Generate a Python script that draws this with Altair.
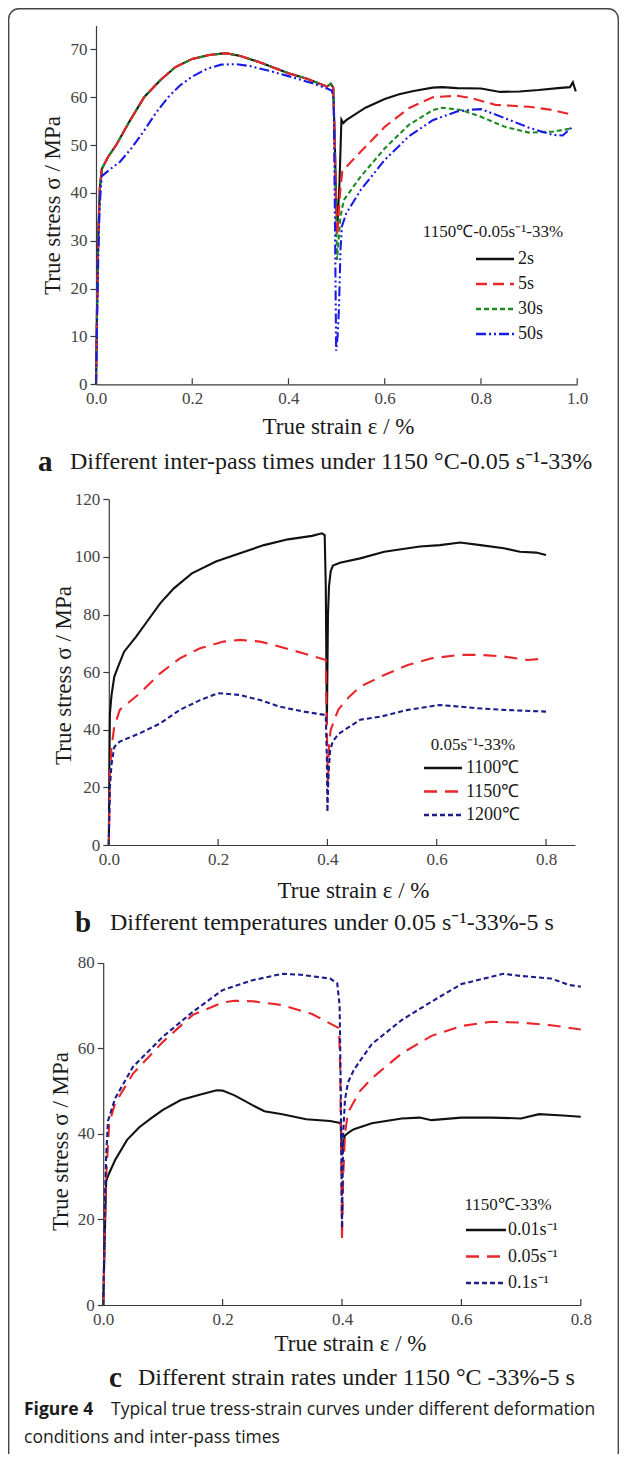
import altair as alt
import pandas as pd

# ---------------- data ----------------
# Panel a: 1150 °C - 0.05 s^-1 - 33 %, inter-pass times 2 s / 5 s / 30 s / 50 s
a_pass1_strain = [0, 0.002, 0.005, 0.008, 0.012, 0.025, 0.042, 0.07, 0.1, 0.133,
                  0.165, 0.2, 0.235, 0.27, 0.3, 0.34, 0.4, 0.44, 0.48, 0.488, 0.493]
a_pass1_stress = [0, 15, 32, 41, 45, 47.5, 50, 55, 60, 63.5,
                  66.3, 68, 68.8, 69.2, 68.6, 67.3, 65, 63.8, 62.2, 62.8, 62]

a_2s_strain2 = [0.496, 0.499, 0.502, 0.506, 0.51, 0.514, 0.52, 0.54, 0.56, 0.6,
                0.63, 0.66, 0.7, 0.72, 0.75, 0.8, 0.84, 0.88, 0.92, 0.96,
                0.985, 0.991, 0.997]
a_2s_stress2 = [52, 38, 34, 42, 55.3, 54.6, 55.2, 56.5, 57.8, 59.6,
                60.6, 61.3, 62, 62.1, 61.9, 61.8, 61.1, 61.2, 61.5, 61.9,
                62.1, 63.1, 61.2]

a_5s_strain2 = [0.496, 0.499, 0.501, 0.504, 0.508, 0.512, 0.53, 0.55, 0.6, 0.65,
                0.7, 0.75, 0.78, 0.83, 0.9, 0.95, 0.99]
a_5s_stress2 = [52, 38, 31, 35, 41, 44.5, 46.5, 48.6, 53.8, 57.7,
                60, 60.3, 59.8, 58.4, 58, 57.3, 56.3]

a_30s_strain2 = [0.496, 0.499, 0.501, 0.504, 0.508, 0.515, 0.55, 0.6, 0.65, 0.7,
                 0.72, 0.76, 0.8, 0.85, 0.9, 0.95, 0.99]
a_30s_stress2 = [50, 35, 26, 30, 35, 38.5, 43.4, 49.3, 54.2, 57.3,
                 57.8, 57.3, 55.9, 53.8, 52.6, 52.8, 53.5]

a_50s_strain = [0, 0.002, 0.005, 0.008, 0.012, 0.03, 0.05, 0.075, 0.1, 0.125,
                0.15, 0.175, 0.2, 0.23, 0.26, 0.29, 0.32, 0.36, 0.4, 0.45,
                0.48, 0.49, 0.494, 0.497, 0.499, 0.502, 0.505, 0.508, 0.511, 0.52,
                0.55, 0.6, 0.65, 0.7, 0.75, 0.78, 0.8, 0.85, 0.9, 0.95,
                0.97, 0.99]
a_50s_stress = [0, 12, 28, 38, 43.5, 45, 46.5, 49.5, 53, 56.8,
                60, 62.5, 64.3, 65.9, 66.8, 66.9, 66.5, 65.5, 64.4, 62.9,
                61.8, 61.4, 59.4, 30, 7, 10, 16, 28, 33, 35.7,
                40.6, 46.9, 51.8, 55.2, 57, 57.4, 57.5, 55.6, 53.6, 52.1,
                52, 53.8]

# Panel b: 0.05 s^-1 - 33 % - 5 s, temperatures
b_1100_strain = [0, 0.001, 0.002, 0.005, 0.01, 0.017, 0.028, 0.05, 0.072, 0.094,
                 0.119, 0.152, 0.196, 0.24, 0.284, 0.328, 0.372, 0.39, 0.395, 0.397,
                 0.399, 0.401, 0.403, 0.406, 0.41, 0.423, 0.46, 0.504, 0.569, 0.606,
                 0.643, 0.68, 0.723, 0.752, 0.782, 0.8]
b_1100_stress = [0, 25, 45.7, 52, 58.4, 61.9, 67.1, 72.3, 78.1, 83.9,
                 89.1, 94.3, 98.4, 101.3, 104.1, 106.1, 107.3, 108.2, 107.6, 90,
                 42, 80, 90, 95, 97, 98, 99.5, 101.8, 103.6, 104.1,
                 105, 104.1, 103, 101.8, 101.5, 100.7]

b_1150_strain = [0, 0.002, 0.005, 0.01, 0.02, 0.057, 0.094, 0.13, 0.167, 0.21,
                 0.24, 0.277, 0.313, 0.357, 0.397, 0.399, 0.401, 0.403, 0.406, 0.41,
                 0.42, 0.44, 0.46, 0.504, 0.547, 0.591, 0.643, 0.68, 0.723, 0.767,
                 0.8]
b_1150_stress = [0, 25, 34, 41, 46.9, 52.7, 59.6, 64.8, 68.3, 70.6,
                 71.2, 70.6, 68.8, 66.5, 64.2, 40, 20, 35, 40, 42,
                 47, 51.5, 55, 59, 62.5, 64.8, 66, 66, 65.4, 64.2,
                 64.8]

b_1200_strain = [0, 0.002, 0.005, 0.01, 0.02, 0.057, 0.094, 0.13, 0.167, 0.2,
                 0.24, 0.277, 0.313, 0.357, 0.397, 0.399, 0.4, 0.402, 0.405, 0.41,
                 0.42, 0.46, 0.496, 0.547, 0.606, 0.643, 0.68, 0.723, 0.8]
b_1200_stress = [0, 20, 28, 34, 35.9, 38.8, 42.2, 46.9, 50.3, 52.7,
                 52.1, 50.3, 48, 46.3, 45.1, 30, 11.5, 25, 33, 36,
                 38.5, 43.5, 44.5, 46.9, 48.6, 48, 47.4, 46.9, 46.3]

# Panel c: 1150 °C - 33 % - 5 s, strain rates
c_001_strain = [0, 0.001, 0.003, 0.005, 0.01, 0.02, 0.04, 0.06, 0.08, 0.1,
                0.13, 0.16, 0.19, 0.2, 0.22, 0.25, 0.27, 0.3, 0.34, 0.38,
                0.395, 0.398, 0.4, 0.402, 0.405, 0.412, 0.42, 0.45, 0.5, 0.53,
                0.55, 0.6, 0.65, 0.7, 0.73, 0.77, 0.8]
c_001_stress = [0, 6, 18, 29, 30.8, 33.9, 38.6, 41.5, 43.6, 45.6,
                47.9, 49.1, 50.2, 50.1, 49, 46.7, 45.3, 44.6, 43.4, 43,
                42.6, 42.3, 35, 38, 39.6, 40.4, 41.1, 42.5, 43.6, 43.8,
                43.2, 43.8, 43.8, 43.6, 44.6, 44.3, 44]

c_005_strain = [0, 0.001, 0.003, 0.005, 0.01, 0.02, 0.05, 0.1, 0.15, 0.2,
                0.22, 0.25, 0.3, 0.35, 0.395, 0.397, 0.399, 0.4, 0.402, 0.405,
                0.41, 0.43, 0.45, 0.5, 0.55, 0.6, 0.65, 0.7, 0.75, 0.8]
c_005_stress = [0, 5, 20, 30, 42.5, 47.1, 54.1, 61.5, 67.8, 70.7,
                71.1, 71, 70.1, 68, 64.7, 55, 30, 15, 30, 40,
                45, 50, 53, 58.8, 62.9, 65.2, 66.2, 66, 65.4, 64.4]

c_01_strain = [0, 0.001, 0.003, 0.005, 0.008, 0.02, 0.05, 0.1, 0.15, 0.2,
               0.25, 0.3, 0.33, 0.38, 0.392, 0.396, 0.398, 0.4, 0.402, 0.405,
               0.41, 0.42, 0.45, 0.5, 0.55, 0.6, 0.65, 0.67, 0.7, 0.75,
               0.78, 0.8]
c_01_stress = [0, 8, 25, 35, 43, 48.3, 55.7, 62.7, 68.5, 73.6,
               75.9, 77.4, 77.2, 76.3, 75.2, 70, 50, 18, 40, 48,
               52, 55, 61, 66.6, 70.9, 75, 76.7, 77.4, 76.9, 76.3,
               74.8, 74.4]

# axis ticks / labels
a_xticks = [0, 0.2, 0.4, 0.6, 0.8, 1.0]
a_yticks = [0, 10, 20, 30, 40, 50, 60, 70]
b_xticks = [0, 0.2, 0.4, 0.6, 0.8]
b_yticks = [0, 20, 40, 60, 80, 100, 120]
c_xticks = [0, 0.2, 0.4, 0.6, 0.8]
c_yticks = [0, 20, 40, 60, 80]

a_names = ["2s", "5s", "30s", "50s"]
b_names = ["1100℃", "1150℃", "1200℃"]
c_names = ["0.01s⁻¹", "0.05s⁻¹", "0.1s⁻¹"]

# ---------------- style ----------------
SERIF = "Liberation Serif"
SANS = "Open Sans"
W, H = 611, 1446
AXIS_C = "#3a3a3a"
LABEL_C = "#444444"
TXT_C = "#1a1a1a"

BLACK, RED, GREEN, BLUE, NAVY = "#111111", "#e8262b", "#1f8a24", "#1a1ae6", "#1c1c8a"
a_colors = [BLACK, RED, GREEN, BLUE]
a_dashes = [None, [11, 6], [5, 3], [10, 3, 2, 3, 2, 3]]
b_colors = [BLACK, RED, NAVY]
b_dashes = [None, [13, 8], [5, 3]]
c_colors = [BLACK, RED, NAVY]
c_dashes = [None, [13, 8], [5, 3]]


def x_axis(y_px, values, title_x, title_dy):
    return alt.Axis(orient="bottom", offset=y_px - H, values=values, format=".1f",
                    ticks=False, tickSize=0, labelPadding=6, labelFont=SERIF,
                    labelFontSize=17, labelColor=LABEL_C, labelFlush=False,
                    labelOverlap=False, domainColor=AXIS_C, domainWidth=1.2,
                    grid=False, title="True strain ε / %", titleFont=SERIF,
                    titleFontSize=23, titleFontWeight="normal", titleColor=TXT_C,
                    titleX=title_x, titleY=title_dy, titleBaseline="middle")


def y_axis(x_px, values, title_dx, title_y):
    return alt.Axis(orient="left", offset=-x_px, values=values, format="d",
                    tickSize=6, tickColor=AXIS_C, tickWidth=1.2, labelPadding=3,
                    labelFont=SERIF, labelFontSize=17, labelColor=LABEL_C,
                    labelFlush=False, labelOverlap=False, domainColor=AXIS_C,
                    domainWidth=1.2, grid=False, title="True stress σ / MPa",
                    titleFont=SERIF, titleFontSize=23, titleFontWeight="normal",
                    titleColor=TXT_C, titleX=title_dx, titleY=title_y,
                    titleAngle=270, titleBaseline="middle")


def line(strain, stress, color, dash, xs, ys, xax, yax, width=2.1):
    df = pd.DataFrame({"strain": strain, "stress": stress,
                       "i": list(range(len(strain)))})
    kw = dict(color=color, strokeWidth=width)
    if dash:
        kw["strokeDash"] = dash
    return alt.Chart(df).mark_line(**kw).encode(
        x=alt.X("strain:Q", scale=xs, axis=xax),
        y=alt.Y("stress:Q", scale=ys, axis=yax),
        order=alt.Order("i:Q"))


def inward_ticks(values, xs, xax, y_px):
    df = pd.DataFrame({"t": values})
    return alt.Chart(df).mark_rule(color=AXIS_C, strokeWidth=1.2).encode(
        x=alt.X("t:Q", scale=xs, axis=xax),
        y=alt.value(y_px - 6), y2=alt.value(y_px))


def text(s, x, y, size, font=SERIF, weight="normal", align="left", color=TXT_C):
    return alt.Chart(pd.DataFrame({"s": [s]})).mark_text(
        align=align, baseline="middle", font=font, fontSize=size,
        fontWeight=weight, color=color).encode(
        x=alt.value(x), y=alt.value(y), text="s:N")


def legend(title, tx, ty, names, colors, dashes, x0, x1, lx, y0, dy, size=18):
    out = [text(title, tx, ty, 17, align="center")]
    for i, (n, c, d) in enumerate(zip(names, colors, dashes)):
        yy = y0 + i * dy
        kw = dict(color=c, strokeWidth=2.4)
        if d:
            kw["strokeDash"] = d
        out.append(alt.Chart(pd.DataFrame({"k": [i]})).mark_rule(**kw).encode(
            x=alt.value(x0), x2=alt.value(x1), y=alt.value(yy)))
        out.append(text(n, lx, yy, size))
    return out


# ---------------- panel a ----------------
ax_px = (88.0, 569.2)
ay_px = (376.3, 17.4)
xs_a = alt.Scale(domain=[0, 1.0], range=list(ax_px), nice=False, zero=False)
ys_a = alt.Scale(domain=[0, 75], range=list(ay_px), nice=False, zero=False)
xax_a = x_axis(ay_px[0], a_xticks, 330, 42)
yax_a = y_axis(ax_px[0], a_yticks, -44, 197)

panel_a = alt.layer(
    line(a_pass1_strain + a_2s_strain2, a_pass1_stress + a_2s_stress2, a_colors[0], a_dashes[0], xs_a, ys_a, xax_a, yax_a),
    line(a_pass1_strain + a_30s_strain2, a_pass1_stress + a_30s_stress2, a_colors[2], a_dashes[2], xs_a, ys_a, xax_a, yax_a),
    line(a_pass1_strain + a_5s_strain2, a_pass1_stress + a_5s_stress2, a_colors[1], a_dashes[1], xs_a, ys_a, xax_a, yax_a),
    line(a_50s_strain, a_50s_stress, a_colors[3], a_dashes[3], xs_a, ys_a, xax_a, yax_a),
    inward_ticks(a_xticks, xs_a, xax_a, ay_px[0]),
)

# ---------------- panel b ----------------
bx_px = (100.8, 567.0)
by_px = (837.0, 491.3)
xs_b = alt.Scale(domain=[0, 0.853], range=list(bx_px), nice=False, zero=False)
ys_b = alt.Scale(domain=[0, 120], range=list(by_px), nice=False, zero=False)
xax_b = x_axis(by_px[0], b_xticks, 345, 45)
yax_b = y_axis(bx_px[0], b_yticks, -45, 667)

panel_b = alt.layer(
    line(b_1100_strain, b_1100_stress, b_colors[0], b_dashes[0], xs_b, ys_b, xax_b, yax_b),
    line(b_1150_strain, b_1150_stress, b_colors[1], b_dashes[1], xs_b, ys_b, xax_b, yax_b),
    line(b_1200_strain, b_1200_stress, b_colors[2], b_dashes[2], xs_b, ys_b, xax_b, yax_b),
    inward_ticks(b_xticks, xs_b, xax_b, by_px[0]),
)

# ---------------- panel c ----------------
cx_px = (95.2, 572.8)
cy_px = (1297.0, 954.7)
xs_c = alt.Scale(domain=[0, 0.8], range=list(cx_px), nice=False, zero=False)
ys_c = alt.Scale(domain=[0, 80], range=list(cy_px), nice=False, zero=False)
xax_c = x_axis(cy_px[0], c_xticks, 342, 38)
yax_c = y_axis(cx_px[0], c_yticks, -43, 1133)

panel_c = alt.layer(
    line(c_001_strain, c_001_stress, c_colors[0], c_dashes[0], xs_c, ys_c, xax_c, yax_c),
    line(c_005_strain, c_005_stress, c_colors[1], c_dashes[1], xs_c, ys_c, xax_c, yax_c),
    line(c_01_strain, c_01_stress, c_colors[2], c_dashes[2], xs_c, ys_c, xax_c, yax_c),
    inward_ticks(c_xticks, xs_c, xax_c, cy_px[0]),
)

# ---------------- legends & captions ----------------
decor = []
decor += legend("1150℃-0.05s⁻¹-33%", 485, 224, a_names, a_colors, a_dashes, 468, 506, 510, 251, 25)
decor += legend("0.05s⁻¹-33%", 465, 737, b_names, b_colors, b_dashes, 416, 454, 458, 760, 23.5)
decor += legend("1150℃-33%", 500, 1197, c_names, c_colors, c_dashes, 458, 498, 500, 1222, 26.5)

decor += [
    text("a", 30, 454, 29, weight="bold"),
    text("Different inter-pass times under 1150 °C-0.05 s⁻¹-33%", 62, 454, 24),
    text("b", 67, 915, 29, weight="bold"),
    text("Different temperatures under 0.05 s⁻¹-33%-5 s", 102, 915, 24),
    text("c", 101, 1370, 29, weight="bold"),
    text("Different strain rates under 1150 °C -33%-5 s", 130, 1370, 24),
    text("Figure 4", 16, 1402, 17.5, font=SANS, weight="bold"),
    text("Typical true tress-strain curves under different deformation", 103, 1402, 17.5, font=SANS),
    text("conditions and inter-pass times", 16, 1430, 17.5, font=SANS),
]

border = alt.Chart(pd.DataFrame({"k": [0]})).mark_rect(
    fillOpacity=0, stroke="#444444", strokeWidth=1.4, cornerRadius=10).encode(
    x=alt.value(0.7), x2=alt.value(610.3), y=alt.value(0.7), y2=alt.value(H + 20))

chart = alt.layer(border, panel_a, panel_b, panel_c, *decor).resolve_scale(
    x="independent", y="independent"
).properties(
    width=W, height=H, padding=0,
    autosize=alt.AutoSizeParams(type="none"),
).configure_view(strokeWidth=0)

chart.save("out.html", embed_options={"renderer": "svg", "actions": False})
